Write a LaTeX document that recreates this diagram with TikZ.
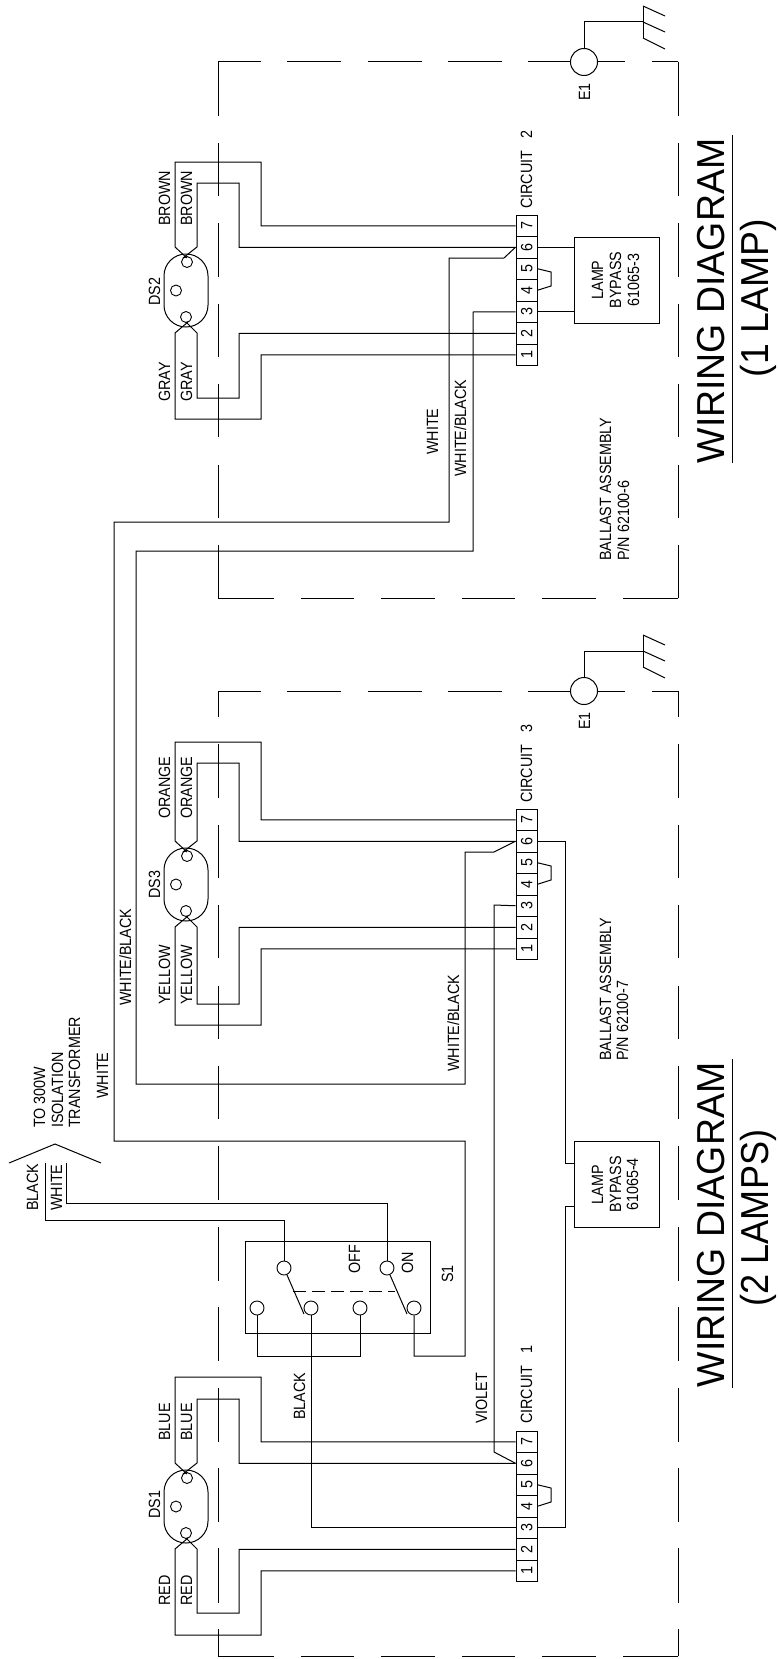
\documentclass[tikz,border=0pt]{standalone}
\usepackage{fontspec}
\setmainfont{Liberation Sans}
\newfontfamily\lblfont[FakeStretch=0.88]{Liberation Sans}
\newfontfamily\titfont[FakeStretch=0.96]{Liberation Sans}
\newfontfamily\titfontb[FakeStretch=0.925]{Liberation Sans}
\tikzset{
  every picture/.style={x=1pt,y=-1pt},
  wire/.style={line width=1pt,line join=miter,draw=black},
  lbl/.style={rotate=90,anchor=base west,inner sep=0pt,text=black,font=\lblfont\fontsize{16.3}{18}\selectfont},
  mid/.style={rotate=90,anchor=base,inner sep=0pt,text=black,font=\lblfont\fontsize{16.3}{18}\selectfont},
  title/.style={rotate=90,anchor=base,inner sep=0pt,text=black,font=\titfont\fontsize{39}{42}\selectfont},
  titleb/.style={rotate=90,anchor=base,inner sep=0pt,text=black,font=\titfontb\fontsize{39}{42}\selectfont},
  cell/.style={draw=black,line width=1pt,rotate=90,minimum width=21.5pt,minimum height=21pt,inner sep=0pt,
     text height=11.7pt,text depth=0pt,font=\lblfont\fontsize{16.3}{18}\selectfont},
  pin/.style={circle,draw=black,line width=0.9pt,minimum size=11pt,inner sep=0pt},
  term/.style={circle,draw=black,line width=0.9pt,minimum size=14pt,inner sep=0pt},
  gnd/.style={circle,draw=black,line width=1pt,minimum size=27pt,inner sep=0pt},
  lamp/.style={draw=black,line width=1pt,rectangle,rounded corners=21.9pt,minimum width=44pt,minimum height=73pt,inner sep=0pt},
  bypass/.style={draw=black,line width=1pt,rectangle,minimum width=85pt,minimum height=86pt,inner sep=0pt},
}
% #1 name, #2 block top y, #3 outer top, #4 inner top, #5 inner bottom, #6 outer bottom
\newcommand\lampunit[6]{%
\begin{scope}[shift={(0,#2)}]
  \foreach \k/\yy in {7/10.75,6/32.25,5/53.75,4/75.25,3/96.75,2/118.25,1/139.75}
    \node[cell] (#1-\k) at (526.5,\yy) {\k};
  \node[lamp] (#1-lamp) at (186,75.5) {};
  \node[pin] (#1-pa) at (187,47) {};
  \node[pin] (#1-pb) at (186,102) {};
  \node[pin] (#1-pc) at (176,75.5) {};
  \draw[wire] (#1-7.north) -| (261,#3) -- (175,#3) -- (175,32) -- (187,43);
  \draw[wire] (#1-6.north) -| (239,#4) -- (197,#4) -- (197,32) -- (183,43);
  \draw[wire] (#1-2.north) -| (239,#5) -- (197,#5) -- (197,118) -- (186,107);
  \draw[wire] (#1-1.north) -| (261,#6) -- (175,#6) -- (175,118) -- (188,107);
  \draw[wire] (#1-5.south) -- (551,57) -- (551,71) -- (#1-4.south);
\end{scope}}
\newcommand\rectdash[2]{%
  \foreach \a/\b in {218/261,287/341,368/422,448/502,598/625,652/678}
    \draw[wire] (\a,#1) -- (\b,#1);
  \foreach \a/\b in {218/274,301/354,381/435,462/515,542/596,623/678}
    \draw[wire] (\a,#2) -- (\b,#2);
}
\newcommand\ground[2]{%
  \begin{scope}[shift={(0,#2)}]
  \node[gnd] (#1) at (584,62) {};
  \coordinate (#1-bar) at (643,22);
  \draw[wire] (528,62) -- (#1.west);
  \draw[wire] (#1.north) |- (#1-bar);
  \draw[wire] (643,6) -- (643,38);
  \draw[wire] (643,6) -- (665,16);
  \draw[wire] (643,22) -- (665,32);
  \draw[wire] (643,38) -- (665,49);
  \node[lbl] (#1-t) at (590,101) {E1};
  \end{scope}}
\begin{document}
\begin{tikzpicture}
\useasboundingbox (0,0) rectangle (778,1659);
% ballast outlines
\rectdash{62}{598}
\rectdash{691}{1656}
\foreach \xx in {218,678}{
  \foreach \a/\b in {62/116,143/196,223/277,304/357,384/437,465/518,545/598}
    \draw[wire] (\xx,\a) -- (\xx,\b);
  \foreach \a/\b in {691/717,744/798,825/878,905/958,986/1039,1066/1119,1146/1200,1227/1281,1307/1361,1388/1442,1468/1522,1548/1603,1629/1656}
    \draw[wire] (\xx,\a) -- (\xx,\b);
}
\ground{E1a}{0}
\ground{E1b}{629}
% lamp units and terminal blocks
\lampunit{ct}{215}{-53}{-32}{183}{204}
\lampunit{cm}{809}{-67}{-46}{195}{216}
\lampunit{cb}{1431}{-54}{-32}{182}{204}
% bypass boxes
\node[bypass] (bpa) at (616.5,280) {};
\node[bypass] (bpb) at (616.5,1184.5) {};
\draw[wire] (ct-6.south) -- (ct-6.south -| bpa.west);
\draw[wire] (ct-3.south) -- (ct-3.south -| bpa.west);
\coordinate (bpb-i) at (574,1163);
\coordinate (bpb-o) at (574,1206);
\draw[wire] (cm-6.south) -| (565,1163) -- (bpb-i);
\draw[wire] (bpb-o) -- (565,1206) |- (cb-3.south);
% switch
\node[draw=black,line width=1pt,rectangle,minimum width=185pt,minimum height=92pt,inner sep=0pt] (S1) at (337.5,1287) {};
\node[term] (swa) at (284,1268) {};
\node[term] (swb) at (387,1268) {};
\node[term] (swc) at (257,1308) {};
\node[term] (swd) at (311,1308) {};
\node[term] (swe) at (360,1308) {};
\node[term] (swf) at (414,1308) {};
\draw[wire] (swa) -- (304,1314);
\draw[wire] (swb) -- (407,1314);
\draw[wire,dash pattern=on 13pt off 6pt] (293,1291) -- (395,1291);
\draw[wire] (swc.south) -- (257,1356) -| (swe.south);
% feed chevron and leads
\coordinate (chl) at (9,1163);
\coordinate (cht) at (55,1144);
\coordinate (chr) at (101,1163);
\draw[wire] (chl) -- (cht) -- (chr);
\coordinate (fb) at (45,1163);
\coordinate (fw) at (66,1163);
\draw[wire] (fb) |- (swa.north |- 0,1220) -- (swa.north);
\draw[wire] (fw) |- (swb.north |- 0,1203) -- (swb.north);
% long runs
\draw[wire] (swf.south) -- (414,1356) -- (465,1356) -- (465,1141) -- (114,1141) -- (114,522) -- (449,522) -- (449,258) -- (504,258) -- (ct-6.north);
\draw[wire] (ct-3.north) -- (473,312) -- (473,551) -- (136,551) -- (136,1084) -- (465,1084) -- (465,852) -- (494,852) -- (cm-6.north);
\draw[wire] (cm-3.north) -- (494,905) -- (494,1452) -- (cb-6.north);
\draw[wire] (cb-3.north) -| (swd.south);
% labels
\node[lbl] (t01) at (170,226) {BROWN};
\node[lbl] (t02) at (192,226) {BROWN};
\node[lbl] (t03) at (170,402) {GRAY};
\node[lbl] (t04) at (192,402) {GRAY};
\node[lbl] (t05) at (160,306) {DS2};
\node[lbl] (t06) at (532,209) {CIRCUIT\hspace{12pt}2};
\node[lbl] (t07) at (438,455) {WHITE};
\node[lbl] (t08) at (466,477) {WHITE/BLACK};
\node[lbl] (t09) at (170,819) {ORANGE};
\node[lbl] (t10) at (192,819) {ORANGE};
\node[lbl] (t11) at (170,1005) {YELLOW};
\node[lbl] (t12) at (192,1005) {YELLOW};
\node[lbl] (t13) at (160,899) {DS3};
\node[lbl] (t14) at (532,803) {CIRCUIT\hspace{12pt}3};
\node[lbl] (t15) at (459,1072) {WHITE/BLACK};
\node[lbl] (t16) at (131,1006) {WHITE/BLACK};
\node[lbl] (t17) at (45,1128) {TO 300W};
\node[lbl] (t18) at (63,1128) {ISOLATION};
\node[lbl] (t19) at (80,1128) {TRANSFORMER};
\node[lbl] (t20) at (108,1099) {WHITE};
\node[lbl] (t21) at (38,1211) {BLACK};
\node[lbl] (t22) at (62,1211) {WHITE};
\node[lbl] (t23) at (360,1274) {OFF};
\node[lbl] (t24) at (413,1274) {ON};
\node[lbl] (t25) at (453,1283) {S1};
\node[lbl] (t26) at (170,1441) {BLUE};
\node[lbl] (t27) at (192,1441) {BLUE};
\node[lbl] (t28) at (170,1606) {RED};
\node[lbl] (t29) at (192,1606) {RED};
\node[lbl] (t30) at (160,1519) {DS1};
\node[lbl] (t31) at (305,1420) {BLACK};
\node[lbl] (t32) at (487,1424) {VIOLET};
\node[lbl] (t33) at (532,1424) {CIRCUIT\hspace{12pt}1};
\node[lbl] (t34) at (611,561) {BALLAST ASSEMBLY};
\node[lbl] (t35) at (629,561) {P/N 62100-6};
\node[lbl] (t36) at (611,1061) {BALLAST ASSEMBLY};
\node[lbl] (t37) at (628,1061) {P/N 62100-7};
\node[mid] (t38) at (603,280) {LAMP};
\node[mid] (t39) at (621,280) {BYPASS};
\node[mid] (t40) at (639,280) {61065-3};
\node[mid] (t41) at (603,1184.5) {LAMP};
\node[mid] (t42) at (621,1184.5) {BYPASS};
\node[mid] (t43) at (638,1184.5) {61065-4};
% titles
\node[title] (ti1) at (724,301) {WIRING DIAGRAM};
\coordinate (ul1a) at (732,135);
\coordinate (ul1b) at (732,463);
\draw[wire] (ul1a) -- (ul1b);
\node[title] (ti2) at (768,298) {(1 LAMP)};
\node[title] (ti3) at (724,1225) {WIRING DIAGRAM};
\coordinate (ul2a) at (732,1059);
\coordinate (ul2b) at (732,1388);
\draw[wire] (ul2a) -- (ul2b);
\node[titleb] (ti4) at (768,1218) {(2 LAMPS)};
\end{tikzpicture}
\end{document}
